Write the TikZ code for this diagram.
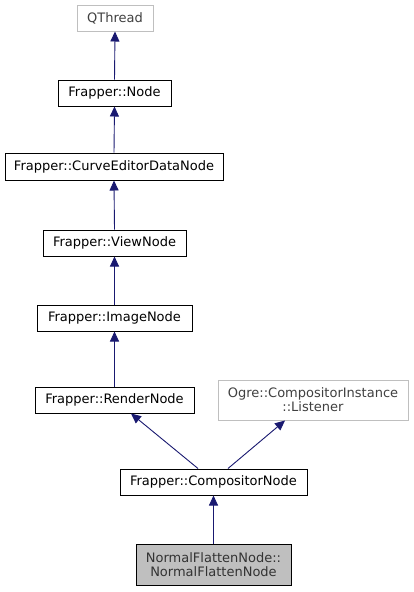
\documentclass[tikz,border=0pt]{standalone}
\usepackage{fontspec}
\setmainfont{DejaVu Sans}
\usetikzlibrary{arrows.meta}
\definecolor{edgeblue}{HTML}{191970}
\definecolor{greyline}{HTML}{BFBFBF}
\definecolor{greyfill}{HTML}{BFBFBF}
\tikzset{
  lbl/.style={font=\fontsize{13}{14}\selectfont},
  cls/.style={draw=black, line width=1pt, fill=white, inner sep=0pt, align=center, lbl},
  ext/.style={draw=greyline, line width=1pt, fill=white, inner sep=0pt, align=center, lbl, text=black!75},
  cur/.style={draw=black, line width=1pt, fill=greyfill, inner sep=0pt, align=center, lbl, text=black!80},
  inh/.style={draw=edgeblue, line width=0.9pt, {Triangle[length=10pt,width=9pt]}-, color=edgeblue}
}
\begin{document}
\begin{tikzpicture}[x=1pt,y=-1pt]
\useasboundingbox (0,0) rectangle (413,592);
\node[ext, minimum width=76pt, minimum height=26pt] (qt) at (115,18) {QThread};
\node[cls, minimum width=113pt, minimum height=26pt] (nd) at (114.5,93) {Frapper::Node};
\node[cls, minimum width=218pt, minimum height=27pt] (ce) at (114,166.5) {Frapper::CurveEditorDataNode};
\node[cls, minimum width=143pt, minimum height=26pt] (vn) at (114.5,243) {Frapper::ViewNode};
\node[cls, minimum width=155pt, minimum height=26pt] (im) at (114.5,318) {Frapper::ImageNode};
\node[cls, minimum width=159pt, minimum height=26pt] (rn) at (114.5,400) {Frapper::RenderNode};
\node[ext, minimum width=190pt, minimum height=40pt] (li) at (313,400) {Ogre::CompositorInstance\\::Listener};
\node[cls, minimum width=187pt, minimum height=26pt] (cn) at (213.5,482) {Frapper::CompositorNode};
\node[cur, minimum width=155pt, minimum height=41pt] (nf) at (213.5,564.5) {NormalFlattenNode::\\NormalFlattenNode};
\draw[inh] (qt.south) -- (nd.north);
\draw[inh] (nd.south) -- (ce.north);
\draw[inh] (ce.south) -- (vn.north);
\draw[inh] (vn.south) -- (im.north);
\draw[inh] (im.south) -- (rn.north);
\draw[inh] ([xshift=16.5pt]rn.south) -- ([xshift=-15.5pt]cn.north);
\draw[inh] ([xshift=-28pt]li.south) -- ([xshift=14.5pt]cn.north);
\draw[inh] (cn.south) -- (nf.north);
\end{tikzpicture}
\end{document}
